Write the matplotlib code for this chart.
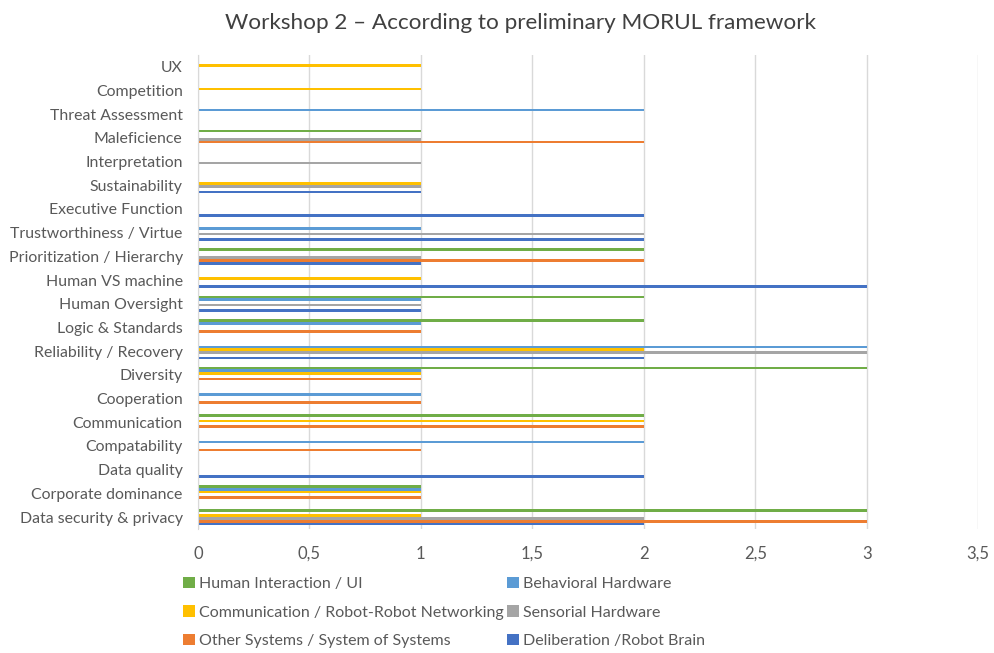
import numpy as np
import matplotlib
matplotlib.use("Agg")
import matplotlib.pyplot as plt
from matplotlib.ticker import FuncFormatter

plt.rcParams['font.family'] = ['Lato', 'DejaVu Sans']

# categories, top to bottom as shown
categories = [
    "UX", "Competition", "Threat Assessment", "Maleficience", "Interpretation",
    "Sustainability", "Executive Function", "Trustworthiness / Virtue",
    "Prioritization / Hierarchy", "Human VS machine", "Human Oversight",
    "Logic & Standards", "Reliability / Recovery", "Diversity", "Cooperation",
    "Communication", "Compatability", "Data quality", "Corporate dominance",
    "Data security & privacy",
]

# one list per series, same order as categories
human_ui     = [0, 0, 0, 1, 0, 0, 0, 0, 2, 0, 2, 2, 0, 3, 0, 2, 0, 0, 1, 3]
behavioral   = [0, 0, 2, 0, 0, 0, 0, 1, 0, 0, 1, 1, 3, 1, 1, 0, 2, 0, 1, 0]
comm_network = [1, 1, 0, 0, 0, 1, 0, 0, 0, 1, 0, 0, 2, 1, 0, 2, 0, 0, 1, 1]
sensorial    = [0, 0, 0, 1, 1, 1, 0, 2, 1, 0, 1, 0, 3, 0, 0, 0, 0, 0, 0, 2]
other_sys    = [0, 0, 0, 2, 0, 0, 0, 0, 2, 0, 0, 1, 0, 1, 1, 2, 1, 0, 1, 3]
deliberation = [0, 0, 0, 0, 0, 1, 2, 2, 1, 3, 1, 0, 2, 0, 0, 0, 0, 2, 0, 2]

# bottom-to-top order inside each group (Excel draws first series lowest)
series = [
    ("Deliberation /Robot Brain", deliberation, "#4472C4"),
    ("Other Systems / System of Systems", other_sys, "#ED7D31"),
    ("Sensorial Hardware", sensorial, "#A5A5A5"),
    ("Communication / Robot-Robot Networking", comm_network, "#FFC000"),
    ("Behavioral Hardware", behavioral, "#5B9BD5"),
    ("Human Interaction / UI", human_ui, "#70AD47"),
]

n = len(categories)
ypos = np.arange(n)[::-1]          # first category on top
h = 0.115

fig = plt.figure(figsize=(9.95, 6.53), dpi=100)
ax = fig.add_axes([0.199, 0.19, 0.784, 0.726])

handles = {}
for k, (name, vals, col) in enumerate(series):
    b = ax.barh(ypos + (k - 2.5) * h, vals, height=h, color=col, label=name)
    handles[name] = b

ax.set_xlim(0, 3.5)
ax.set_ylim(-0.5, n - 0.5)
ax.set_xticks(np.arange(0, 3.51, 0.5))
ax.xaxis.set_major_formatter(FuncFormatter(lambda v, p: f"{v:g}".replace(".", ",")))
ax.set_yticks(np.arange(n)[::-1])
ax.set_yticklabels(categories)
ax.tick_params(axis='both', length=0, colors="#595959")
ax.tick_params(axis='x', pad=12, labelsize=12)
ax.tick_params(axis='y', pad=11, labelsize=11.4)
ax.grid(axis='x', color="#D9D9D9", linewidth=1)
ax.set_axisbelow(True)
for s in ("top", "right", "bottom"):
    ax.spines[s].set_visible(False)
ax.spines["left"].set_color("#D9D9D9")

fig.text(0.523, 0.965, "Workshop 2 \u2013 According to preliminary MORUL framework",
         ha="center", va="center", fontsize=16.2, color="#404040")

order = ["Human Interaction / UI", "Communication / Robot-Robot Networking",
         "Other Systems / System of Systems", "Behavioral Hardware",
         "Sensorial Hardware", "Deliberation /Robot Brain"]
leg = fig.legend([handles[o] for o in order], order, ncol=2,
                 loc="upper left", bbox_to_anchor=(0.178, 0.126),
                 frameon=False, fontsize=11.5, handlelength=0.7, handleheight=0.7,
                 handletextpad=0.25, columnspacing=0.25, labelspacing=0.88,
                 borderaxespad=0)
for t in leg.get_texts():
    t.set_color("#595959")

plt.savefig("out.png", dpi=100)
